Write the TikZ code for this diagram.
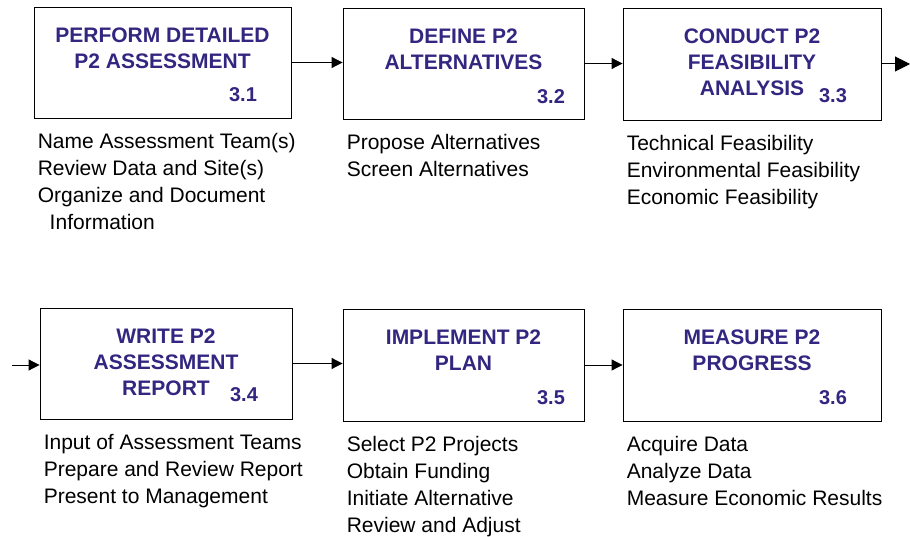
\documentclass[tikz,border=0pt]{standalone}
\usepackage{fontspec}
\setmainfont{Liberation Sans}
\usetikzlibrary{
    positioning,
    arrows.meta
    }
\definecolor{titleblue}{RGB}{50,38,128}

\begin{document}
\begin{tikzpicture}[x=1pt, y=-1pt]
\tikzset{stepbox/.style =
        {
            rectangle,
            draw,
            line width=0.9pt,
            inner sep=0pt
        }
}

\tikzset{steptitle/.style =
        {
            text=titleblue,
            font=\bfseries\fontsize{21}{26}\selectfont,
            align=center,
            inner sep=0pt
        }
}

\tikzset{stepnum/.style =
        {
            steptitle,
            font=\bfseries\fontsize{20}{24}\selectfont
        }
}

\tikzset{tasklist/.style =
        {
            font=\fontsize{21}{27}\selectfont,
            align=left,
            inner sep=0pt
        }
}

\tikzset{flow/.style = {
            line width=1pt,
            -{Triangle[length=11pt, width=11pt]}
        }
}

		\useasboundingbox (0,0) rectangle (910,537);

		\foreach \n / \cx / \cy / \w / \h / \nx / \ny / \title in
			{1/162.5/62.5/257/111/243/94.5/{PERFORM DETAILED\\P2 ASSESSMENT},
				2/463.5/63.5/241/111/551/97/{DEFINE P2\\ALTERNATIVES},
				3/752/64/258/112/833/96/{CONDUCT P2\\FEASIBILITY\\ANALYSIS},
				4/166/363.5/252/111/244/395/{WRITE P2\\ASSESSMENT\\REPORT},
				5/463.5/365/241/112/551/398/{IMPLEMENT P2\\PLAN},
				6/752/365/258/112/833/398/{MEASURE P2\\PROGRESS}}
		{
		\node[stepbox, minimum width=\w pt, minimum height=\h pt] (step-\n) at (\cx,\cy) {};
		\node[steptitle, below=21.5pt of step-\n.north] (title-\n) {\title};
		\node[stepnum] (num-\n) at (\nx,\ny) {3.\n};
		}

		\foreach \n / \tasks in
			{1/{Name Assessment Team(s)\\Review Data and Site(s)\\Organize and Document\\\hspace*{12pt}Information},
				2/{Propose Alternatives\\Screen Alternatives},
				3/{Technical Feasibility\\Environmental Feasibility\\Economic Feasibility},
				4/{Input of Assessment Teams\\Prepare and Review Report\\Present to Management},
				5/{Select P2 Projects\\Obtain Funding\\Initiate Alternative\\Review and Adjust},
				6/{Acquire Data\\Analyze Data\\Measure Economic Results}}
		\node[tasklist, below right=14.5pt and 4pt of step-\n.south west] (tasks-\n) {\tasks};

		\coordinate (in) at (12,365);
		\coordinate (out) at (910,64);

		\draw[flow] (step-1.east) -- (step-1.east -| step-2.west);
		\draw[flow] (step-2.east) -- (step-2.east -| step-3.west);
		\draw[flow, -{Triangle[length=15pt, width=15pt]}] (step-3.east) -- (out);
		\draw[flow] (in) -- (in -| step-4.west);
		\draw[flow] (step-4.east) -- (step-4.east -| step-5.west);
		\draw[flow] (step-5.east) -- (step-5.east -| step-6.west);

	\end{tikzpicture}
\end{document}
